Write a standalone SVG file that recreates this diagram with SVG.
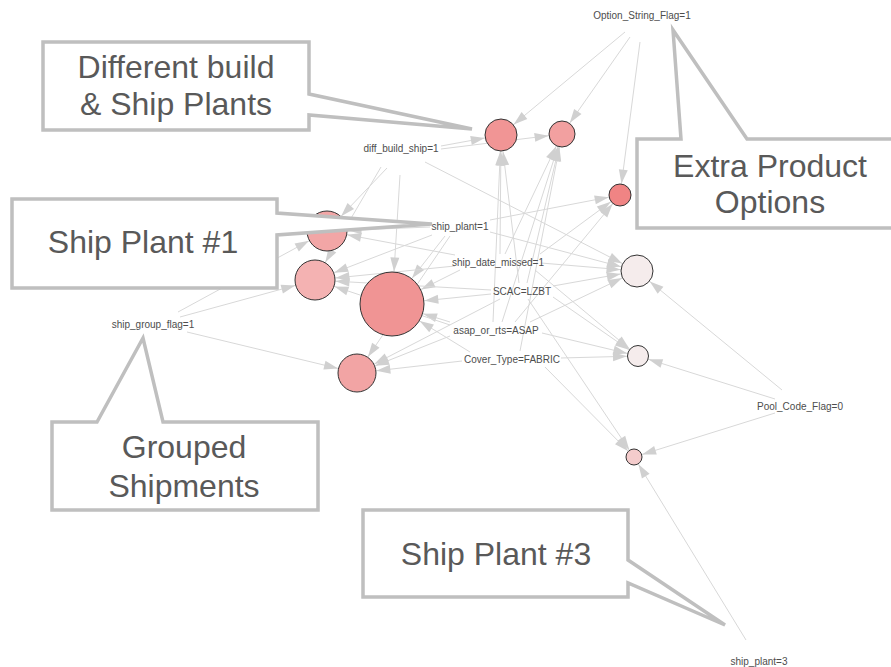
<svg xmlns="http://www.w3.org/2000/svg" width="891" height="667" viewBox="0 0 891 667">
<style>
.e{stroke:#d8d8d8;stroke-width:1;fill:none}
.n{stroke:#333;stroke-width:1}
.lb{font-family:"Liberation Sans",Arial,sans-serif;font-size:10px;fill:#4d4d4d;text-anchor:middle}
.co{fill:#fff;stroke:#bfbfbf;stroke-width:3.5;stroke-linejoin:miter}
.ct{font-family:"Liberation Sans",Arial,sans-serif;font-size:32px;fill:#595959;text-anchor:middle}
.ah{fill:#d0d0d0}
</style>
<defs>
<marker id="a16" markerUnits="userSpaceOnUse" orient="auto" markerWidth="60" markerHeight="20" refX="30.5" refY="4.5" overflow="visible"><path class="ah" d="M0,0 L14,4.5 L0,9 Z"/></marker>
<marker id="a13" markerUnits="userSpaceOnUse" orient="auto" markerWidth="60" markerHeight="20" refX="27.5" refY="4.5" overflow="visible"><path class="ah" d="M0,0 L14,4.5 L0,9 Z"/></marker>
<marker id="a11" markerUnits="userSpaceOnUse" orient="auto" markerWidth="60" markerHeight="20" refX="25.5" refY="4.5" overflow="visible"><path class="ah" d="M0,0 L14,4.5 L0,9 Z"/></marker>
<marker id="a10" markerUnits="userSpaceOnUse" orient="auto" markerWidth="60" markerHeight="20" refX="25" refY="4.5" overflow="visible"><path class="ah" d="M0,0 L14,4.5 L0,9 Z"/></marker>
<marker id="a8" markerUnits="userSpaceOnUse" orient="auto" markerWidth="60" markerHeight="20" refX="22.5" refY="4.5" overflow="visible"><path class="ah" d="M0,0 L14,4.5 L0,9 Z"/></marker>
<marker id="a20" markerUnits="userSpaceOnUse" orient="auto" markerWidth="60" markerHeight="20" refX="34.5" refY="4.5" overflow="visible"><path class="ah" d="M0,0 L14,4.5 L0,9 Z"/></marker>
<marker id="a19" markerUnits="userSpaceOnUse" orient="auto" markerWidth="60" markerHeight="20" refX="33.5" refY="4.5" overflow="visible"><path class="ah" d="M0,0 L14,4.5 L0,9 Z"/></marker>
<marker id="a32" markerUnits="userSpaceOnUse" orient="auto" markerWidth="80" markerHeight="20" refX="46.5" refY="4.5" overflow="visible"><path class="ah" d="M0,0 L14,4.5 L0,9 Z"/></marker>
</defs>
<rect width="891" height="667" fill="#fff"/>
<g id="connectors">
<line class="e" x1="625" y1="32" x2="501" y2="135" marker-end="url(#a16)"/>
<line class="e" x1="630" y1="37" x2="562" y2="134" marker-end="url(#a13)"/>
<line class="e" x1="640" y1="42" x2="620" y2="195" marker-end="url(#a11)"/>
<line class="e" x1="441" y1="146" x2="501" y2="135" marker-end="url(#a16)"/>
<line class="e" x1="441" y1="149" x2="562" y2="134" marker-end="url(#a13)"/>
<line class="e" x1="387" y1="168" x2="327" y2="231" marker-end="url(#a20)"/>
<line class="e" x1="381" y1="167" x2="315" y2="280" marker-end="url(#a20)"/>
<line class="e" x1="400" y1="175" x2="392" y2="304" marker-end="url(#a32)"/>
<line class="e" x1="425" y1="162" x2="637" y2="271" marker-end="url(#a16)"/>
<line class="e" x1="430" y1="227" x2="327" y2="231" marker-end="url(#a20)"/>
<line class="e" x1="432" y1="235" x2="315" y2="280" marker-end="url(#a20)"/>
<line class="e" x1="450" y1="236" x2="357" y2="373" marker-end="url(#a19)"/>
<line class="e" x1="445" y1="236" x2="392" y2="304" marker-end="url(#a32)"/>
<line class="e" x1="490" y1="220" x2="620" y2="195" marker-end="url(#a11)"/>
<line class="e" x1="490" y1="232" x2="637" y2="271" marker-end="url(#a16)"/>
<line class="e" x1="500" y1="254" x2="501" y2="135" marker-end="url(#a16)"/>
<line class="e" x1="505" y1="254" x2="562" y2="134" marker-end="url(#a13)"/>
<line class="e" x1="455" y1="255" x2="327" y2="231" marker-end="url(#a20)"/>
<line class="e" x1="455" y1="266" x2="315" y2="280" marker-end="url(#a20)"/>
<line class="e" x1="460" y1="270" x2="392" y2="304" marker-end="url(#a32)"/>
<line class="e" x1="540" y1="254" x2="620" y2="195" marker-end="url(#a11)"/>
<line class="e" x1="541" y1="263" x2="637" y2="271" marker-end="url(#a16)"/>
<line class="e" x1="535" y1="270" x2="638" y2="356" marker-end="url(#a10)"/>
<line class="e" x1="519" y1="283" x2="501" y2="135" marker-end="url(#a16)"/>
<line class="e" x1="527" y1="283" x2="562" y2="134" marker-end="url(#a13)"/>
<line class="e" x1="491" y1="294" x2="392" y2="304" marker-end="url(#a32)"/>
<line class="e" x1="491" y1="290" x2="315" y2="280" marker-end="url(#a20)"/>
<line class="e" x1="500" y1="299" x2="357" y2="373" marker-end="url(#a19)"/>
<line class="e" x1="553" y1="286" x2="637" y2="271" marker-end="url(#a16)"/>
<line class="e" x1="553" y1="297" x2="638" y2="356" marker-end="url(#a10)"/>
<line class="e" x1="528" y1="299" x2="634" y2="457" marker-end="url(#a8)"/>
<line class="e" x1="493" y1="322" x2="501" y2="135" marker-end="url(#a16)"/>
<line class="e" x1="502" y1="322" x2="562" y2="134" marker-end="url(#a13)"/>
<line class="e" x1="450" y1="322" x2="392" y2="304" marker-end="url(#a32)"/>
<line class="e" x1="450" y1="325" x2="315" y2="280" marker-end="url(#a20)"/>
<line class="e" x1="450" y1="336" x2="357" y2="373" marker-end="url(#a19)"/>
<line class="e" x1="515" y1="322" x2="620" y2="195" marker-end="url(#a11)"/>
<line class="e" x1="530" y1="322" x2="637" y2="271" marker-end="url(#a16)"/>
<line class="e" x1="542" y1="333" x2="638" y2="356" marker-end="url(#a10)"/>
<line class="e" x1="462" y1="361" x2="357" y2="373" marker-end="url(#a19)"/>
<line class="e" x1="470" y1="352" x2="392" y2="304" marker-end="url(#a32)"/>
<line class="e" x1="520" y1="351" x2="562" y2="134" marker-end="url(#a13)"/>
<line class="e" x1="561" y1="358" x2="638" y2="356" marker-end="url(#a10)"/>
<line class="e" x1="545" y1="367" x2="634" y2="457" marker-end="url(#a8)"/>
<line class="e" x1="178" y1="312" x2="327" y2="231" marker-end="url(#a20)"/>
<line class="e" x1="180" y1="317" x2="315" y2="280" marker-end="url(#a20)"/>
<line class="e" x1="187" y1="332" x2="357" y2="373" marker-end="url(#a19)"/>
<line class="e" x1="782" y1="390" x2="637" y2="271" marker-end="url(#a16)"/>
<line class="e" x1="775" y1="399" x2="638" y2="356" marker-end="url(#a10)"/>
<line class="e" x1="775" y1="413" x2="634" y2="457" marker-end="url(#a8)"/>
<line class="e" x1="746" y1="640" x2="634" y2="457" marker-end="url(#a8)"/>
</g>
<g id="rule-nodes">
<g id="r1"><circle class="n" cx="501" cy="135" r="16" fill="#f19595"/></g>
<g id="r2"><circle class="n" cx="562" cy="134" r="13" fill="#f2a0a0"/></g>
<g id="r3"><circle class="n" cx="620" cy="195" r="11" fill="#f08484"/></g>
<g id="r4"><circle class="n" cx="637" cy="271" r="16" fill="#f5ecec"/></g>
<g id="r5"><circle class="n" cx="638" cy="356" r="10.5" fill="#f5ecec"/></g>
<g id="r6"><circle class="n" cx="634" cy="457" r="8" fill="#f4cccc"/></g>
<g id="r7"><circle class="n" cx="327" cy="231" r="20" fill="#f2a6a6"/></g>
<g id="r8"><circle class="n" cx="315" cy="280" r="20" fill="#f4b2b2"/></g>
<g id="r9"><circle class="n" cx="392" cy="304" r="32" fill="#f09494"/></g>
<g id="r10"><circle class="n" cx="357" cy="373" r="19" fill="#f2a4a4"/></g>
</g>
<g id="item-nodes">
<g id="i-option"><text class="lb" x="642" y="19">Option_String_Flag=1</text></g>
<g id="i-diff"><text class="lb" x="401" y="152">diff_build_ship=1</text></g>
<g id="i-sp1"><text class="lb" x="460" y="230">ship_plant=1</text></g>
<g id="i-sdm"><text class="lb" x="498" y="266">ship_date_missed=1</text></g>
<g id="i-scac"><text class="lb" x="522" y="295">SCAC=LZBT</text></g>
<g id="i-asap"><text class="lb" x="496" y="334">asap_or_rts=ASAP</text></g>
<g id="i-cover"><text class="lb" x="512" y="363">Cover_Type=FABRIC</text></g>
<g id="i-sgf"><text class="lb" x="153" y="328">ship_group_flag=1</text></g>
<g id="i-pool"><text class="lb" x="800" y="410">Pool_Code_Flag=0</text></g>
<g id="i-sp3"><text class="lb" x="759" y="665">ship_plant=3</text></g>
</g>
<g id="callout-diff">
<path class="co" d="M43,42 H309 V94 L472,129 L309,115 V130 H43 Z"/>
<text class="ct" x="176" y="78">Different build</text>
<text class="ct" x="176" y="115">&amp; Ship Plants</text>
</g>
<g id="callout-extra">
<path class="co" d="M637,139 H681 L673,30 L747,139 H896 V228 H637 Z"/>
<text class="ct" x="770" y="177">Extra Product</text>
<text class="ct" x="770" y="213">Options</text>
</g>
<g id="callout-sp1">
<path class="co" d="M12,199 H277 V213 L432,224 L277,235 V288 H12 Z"/>
<text class="ct" x="143" y="253">Ship Plant #1</text>
</g>
<g id="callout-grouped">
<path class="co" d="M52,422 H97 L143,338 L163,422 H318 V510 H52 Z"/>
<text class="ct" x="184" y="458">Grouped</text>
<text class="ct" x="184" y="497">Shipments</text>
</g>
<g id="callout-sp3">
<path class="co" d="M363,510 H628 V560 L725,625 L628,583 V597 H363 Z"/>
<text class="ct" x="496" y="565">Ship Plant #3</text>
</g>
</svg>
